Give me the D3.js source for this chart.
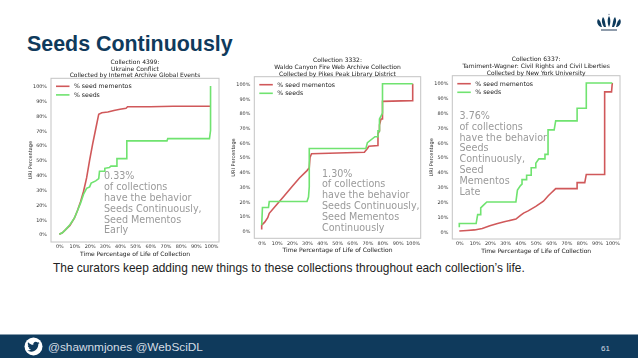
<!DOCTYPE html>
<html>
<head>
<meta charset="utf-8">
<script src="https://cdn.jsdelivr.net/npm/d3@7"></script>
<style>
    html, body { margin: 0; padding: 0; background: #fff; }
    svg { display: block; }
</style>
</head>
<body>
<svg id="slide" width="638" height="359"></svg>
<script>
// values: [time %, uri %]
const mementos4399 = [[0,0],[2,1],[4,3],[7,6],[10,11],[12,16],[14,22],[16,29],[18,38],[20,50],[22,61],[24,71],[26,81],[28,82],[32,82.5],[36,83.5],[40,84.3],[44,85],[45,86],[60,86],[75,86.3],[100,86.3]];
const seeds4399 = [[0,0],[2,1],[4,3],[7,6.5],[10,11],[12,16],[14,21],[15,24],[16,27],[18,31],[20,32],[21,34.5],[24,36],[26,37.5],[26.5,42.5],[30,42.5],[30,44.5],[33,45],[34,46],[38,46],[38,51],[44.5,51],[44.5,63],[71,63],[71.5,64.5],[99,64.5],[99.7,70],[99.7,100]];
const mementos3332 = [[0,1],[0,4],[2,6],[4,9],[5,12],[10,18],[15,24],[20,30],[25,36],[30,41],[31.5,43],[32,50],[33,52.5],[68,53.5],[70,56],[71,57.5],[77,58],[77,66],[78,68],[78,72],[79,76],[80,76],[80,88],[99.5,88.5],[100,88.5],[100,100]];
const seeds3332 = [[0,4],[0.5,16],[4.5,16],[5,20],[30,20],[31,23],[31.5,30],[31.5,56],[69,56],[70,60],[75,64],[77,64],[77,68],[78,68],[78,76],[80,80],[80,100],[100,100]];
const mementos6337 = [[0,0.5],[5,0.8],[10,1.2],[15,2.2],[20,4],[25,5.5],[30,6.8],[37,8.5],[40,11],[42,12.5],[45,14],[50,17],[55,20.5],[58,24],[60,26],[62,28],[63,29],[77,29],[77,33],[82,33],[83,38.5],[95,38.5],[95,94],[99.5,94],[100,100]];
const seeds6337 = [[0,3],[0,5.5],[11,5.5],[12,11.5],[14,11.5],[14,16],[16,18],[18,20],[37,20],[38,28],[40,31],[41,32],[41,35],[44,35],[44,38],[47,38],[47,43],[50,43],[50,46],[52,49],[56,49],[56,52],[58,52],[58,68.5],[62,68.5],[63,74.5],[77,74.5],[77,83],[83,83],[83,100],[100,100]];

const tickValues = [0, 10, 20, 30, 40, 50, 60, 70, 80, 90, 100];
const seriesNames = ["% seed mementos", "% seeds"];

const title4399 = ["Collection 4399:", "Ukraine Conflict", "Collected by Internet Archive Global Events"];
const title3332 = ["Collection 3332:", "Waldo Canyon Fire Web Archive Collection", "Collected by Pikes Peak Library District"];
const title6337 = ["Collection 6337:", "Tamiment-Wagner: Civil Rights and Civil Liberties", "Collected by New York University"];

const note4399 = ["0.33%", "of collections", "have the behavior", "Seeds Continuously,", "Seed Mementos", "Early"];
const note3332 = ["1.30%", "of collections", "have the behavior", "Seeds Continuously,", "Seed Mementos", "Continuously"];
const note6337 = ["3.76%", "of collections", "have the behavior", "Seeds", "Continuously,", "Seed", "Mementos", "Late"];

const navy = "#0f3a5c";
const red = "#d0595a";
const green = "#6fe36f";
const sans = "'Liberation Sans', Arial, sans-serif";
const plotFont = "'DejaVu Sans', sans-serif";

const svg = d3.select("#slide");

const defs = svg.append("defs");
defs.append("filter").attr("id", "soft")
    .attr("x", "-5%").attr("y", "-5%").attr("width", "110%").attr("height", "110%")
    .append("feGaussianBlur").attr("stdDeviation", 0.5);

function drawChart(opt) {
    var g = svg.append("g").attr("filter", "url(#soft)");

    // inner x/y are where 0% and 100% sit, box is the axes frame
    var x = d3.scaleLinear().domain([0, 100]).range([opt.x0, opt.x100]);
    var y = d3.scaleLinear().domain([0, 100]).range([opt.y0, opt.y100]);

    g.append("rect")
        .attr("x", opt.box[0]).attr("y", opt.box[1])
        .attr("width", opt.box[2] - opt.box[0]).attr("height", opt.box[3] - opt.box[1])
        .attr("fill", "#fff").attr("stroke", "#c4c4c4").attr("stroke-width", 1);

    var xAxis = d3.axisBottom(x).tickValues(tickValues).tickSize(0).tickPadding(3)
        .tickFormat(d => d + "%");
    var yAxis = d3.axisLeft(y).tickValues(tickValues).tickSize(0).tickPadding(4)
        .tickFormat(d => d + "%");

    var xg = g.append("g").attr("transform", "translate(0," + opt.box[3] + ")").call(xAxis);
    var yg = g.append("g").attr("transform", "translate(" + opt.box[0] + ",0)").call(yAxis);
    [xg, yg].forEach(a => {
        a.select(".domain").remove();
        a.selectAll("text").attr("font-family", plotFont).attr("font-size", 4.9).attr("fill", "#333");
    });

    var line = d3.line().x(d => x(d[0])).y(d => y(d[1]));
    g.append("path").attr("d", line(opt.mementos))
        .attr("fill", "none").attr("stroke", red).attr("stroke-width", 1.6);
    g.append("path").attr("d", line(opt.seeds))
        .attr("fill", "none").attr("stroke", green).attr("stroke-width", 1.6);

    // three line title
    g.append("g").selectAll("text").data(opt.title).enter().append("text")
        .text(d => d)
        .attr("x", (opt.box[0] + opt.box[2]) / 2)
        .attr("y", (d, i) => opt.box[1] - 14.5 + i * 6.8)
        .attr("text-anchor", "middle")
        .attr("font-family", plotFont).attr("font-size", 6).attr("fill", "#222");

    g.append("text").text("Time Percentage of Life of Collection")
        .attr("x", (opt.box[0] + opt.box[2]) / 2)
        .attr("y", opt.box[3] + 13.5)
        .attr("text-anchor", "middle")
        .attr("font-family", plotFont).attr("font-size", 6).attr("fill", "#222");

    g.append("text").text("URI Percentage")
        .attr("transform", "translate(" + (opt.box[0] - 19) + "," + ((opt.box[1] + opt.box[3]) / 2) + ") rotate(-90)")
        .attr("text-anchor", "middle")
        .attr("font-family", plotFont).attr("font-size", 5).attr("fill", "#222");

    // legend
    var lx = opt.box[0] + 5, ly = opt.box[1] + 8;
    seriesNames.forEach((name, i) => {
        var rowY = ly + i * 8.6;
        g.append("line")
            .attr("x1", lx).attr("x2", lx + 13.5)
            .attr("y1", rowY).attr("y2", rowY)
            .attr("stroke", i == 0 ? red : green).attr("stroke-width", 1.6);
        g.append("text").text(name)
            .attr("x", lx + 18).attr("y", rowY + 2)
            .attr("font-family", plotFont).attr("font-size", 6.2).attr("fill", "#222");
    });

    // grey annotation
    g.append("g").selectAll("text").data(opt.note).enter().append("text")
        .text(d => d)
        .attr("x", opt.noteX)
        .attr("y", (d, i) => opt.noteY + i * 10.8)
        .attr("font-family", plotFont).attr("font-size", 9.6).attr("fill", "#9a9a9a");
}

drawChart({
    box: [51, 78.3, 219, 242], x0: 59.3, x100: 211, y0: 234.3, y100: 86,
    mementos: mementos4399, seeds: seeds4399, title: title4399, note: note4399, noteX: 104, noteY: 179.3
});
drawChart({
    box: [254.3, 76.7, 420.7, 238.3], x0: 261.7, x100: 412.7, y0: 231, y100: 83.7,
    mementos: mementos3332, seeds: seeds3332, title: title3332, note: note3332, noteX: 322, noteY: 176.5
});
drawChart({
    box: [452.3, 75.7, 620, 239], x0: 459.3, x100: 612.3, y0: 231.7, y100: 83,
    mementos: mementos6337, seeds: seeds6337, title: title6337, note: note6337, noteX: 459.5, noteY: 119
});

// slide title and caption
svg.append("text").text("Seeds Continuously")
    .attr("x", 27).attr("y", 51)
    .attr("font-family", sans).attr("font-size", 21.4).attr("font-weight", "bold").attr("fill", navy);

svg.append("text").text("The curators keep adding new things to these collections throughout each collection\u2019s life.")
    .attr("x", 53).attr("y", 272)
    .attr("font-family", sans).attr("font-size", 11.9).attr("fill", "#222");

// footer
svg.append("rect").attr("x", 0).attr("y", 334.5).attr("width", 638).attr("height", 23.5).attr("fill", navy);
svg.append("circle").attr("cx", 33.5).attr("cy", 346.5).attr("r", 9).attr("fill", "#fff");
svg.append("path")
    .attr("d", "M23.953 4.57a10 10 0 01-2.825.775 4.958 4.958 0 002.163-2.723c-.951.555-2.005.959-3.127 1.184a4.92 4.92 0 00-8.384 4.482C7.69 8.095 4.067 6.13 1.64 3.162a4.822 4.822 0 00-.666 2.475c0 1.71.87 3.213 2.188 4.096a4.904 4.904 0 01-2.228-.616v.06a4.923 4.923 0 003.946 4.827 4.996 4.996 0 01-2.212.085 4.936 4.936 0 004.604 3.417 9.867 9.867 0 01-6.102 2.105c-.39 0-.779-.023-1.17-.067a13.995 13.995 0 007.557 2.209c9.053 0 13.998-7.496 13.998-13.985 0-.21 0-.42-.015-.63A9.935 9.935 0 0024 4.59z")
    .attr("transform", "translate(27.3,340.6) scale(0.51)")
    .attr("fill", navy);
svg.append("text").text("@shawnmjones @WebSciDL")
    .attr("x", 48).attr("y", 351)
    .attr("font-family", sans).attr("font-size", 11.8).attr("fill", "#d5dde4");
svg.append("text").text("61")
    .attr("x", 601).attr("y", 350.5)
    .attr("font-family", sans).attr("font-size", 8).attr("fill", "#d5dde4");

// crown logo, top right
var crown = svg.append("g").attr("transform", "translate(609,22)").attr("filter", "url(#soft)");
[
    "M-11,-3 C-13,0 -11,4 -8,5 L-7,5 C-8,2 -8,-1 -11,-3Z",
    "M11,-3 C13,0 11,4 8,5 L7,5 C8,2 8,-1 11,-3Z",
    "M-6,-5 C-8,-2 -7,2 -5,5 L-3,5 C-4,1 -4,-3 -6,-5Z",
    "M6,-5 C8,-2 7,2 5,5 L3,5 C4,1 4,-3 6,-5Z",
    "M0,-6 C-2,-3 -1.5,2 0,5 C1.5,2 2,-3 0,-6Z"
].forEach(p => crown.append("path").attr("d", p).attr("fill", navy));
crown.append("rect").attr("x", -8).attr("y", 7).attr("width", 16).attr("height", 2).attr("fill", "#8f9cab");
crown.append("circle").attr("cx", 0).attr("cy", -7.5).attr("r", 0.8).attr("fill", "#8f9cab");
</script>
</body>
</html>
